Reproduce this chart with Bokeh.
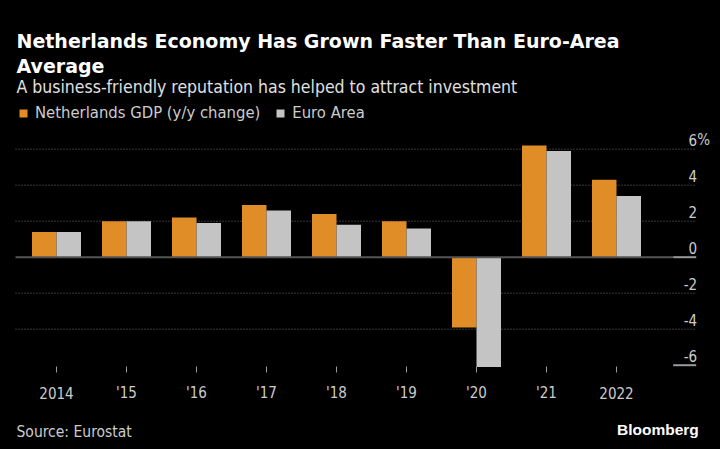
from bokeh.plotting import figure
from bokeh.models import ColumnDataSource, Label, Legend, LegendItem, Range1d
from bokeh.transform import dodge
from bokeh.embed import file_html
from bokeh.resources import INLINE
from bokeh.core.properties import value

# ---------------- data ----------------
years = ["2014", "'15", "'16", "'17", "'18", "'19", "'20", "'21", "2022"]
netherlands = [1.4, 2.0, 2.2, 2.9, 2.4, 2.0, -3.9, 6.2, 4.3]
euro_area = [1.4, 2.0, 1.9, 2.6, 1.8, 1.6, -6.1, 5.9, 3.4]
y_ticks = [6, 4, 2, 0, -2, -4, -6]
y_tick_labels = ["6", "4", "2", "0", "-2", "-4", "-6"]
y_unit = "%"
grid_ticks = [6, 4, 2, -2, -4]
series_names = ["Netherlands GDP (y/y change)", "Euro Area"]
title_lines = ["Netherlands Economy Has Grown Faster Than Euro-Area", "Average"]
subtitle = "A business-friendly reputation has helped to attract investment"
source_text = "Source: Eurostat"
brand = "Bloomberg"

# ---------------- layout / style ----------------
W, H = 720, 449
ORANGE = "#E08D28"
GREY = "#C4C4C4"
BG = "#000000"
COND = "DejaVu Sans Condensed"

PX_X = 70.0          # pixels per category
PX_Y = 18.0          # pixels per percentage point
X0_PIX = 56.0        # pixel of first category centre
Y0_PIX = 256.7       # pixel of zero line

x_start, x_end = -X0_PIX / PX_X, (W - X0_PIX) / PX_X
y_end, y_start = Y0_PIX / PX_Y, -(H - Y0_PIX) / PX_Y

plot_left = (15 - X0_PIX) / PX_X
plot_right = (695.7 - X0_PIX) / PX_X
plot_bottom = y_ticks[-1] - 1.3 / PX_Y
cut = plot_right - 23 / PX_X

p = figure(width=W, height=H, output_backend="svg", toolbar_location=None,
           x_range=Range1d(x_start, x_end), y_range=Range1d(y_start, y_end),
           x_axis_location=None, y_axis_location=None, title=None,
           min_border=0, min_border_left=0, min_border_right=0,
           min_border_top=0, min_border_bottom=0)
p.background_fill_color = BG
p.border_fill_color = BG
p.outline_line_color = None
p.grid.visible = False

# dotted gridlines
p.segment(x0=[plot_left] * len(grid_ticks), x1=[plot_right] * len(grid_ticks),
          y0=grid_ticks, y1=grid_ticks, line_color="#707070", line_width=1,
          line_dash="1 2")

src = ColumnDataSource(dict(x=list(range(len(years))), nl=netherlands, ea=euro_area))
r1 = p.vbar(x=dodge("x", -0.175), top="nl", width=0.35, source=src,
            fill_color=ORANGE, line_color=None)
r2 = p.vbar(x=dodge("x", 0.175), top="ea", width=0.35, source=src,
            fill_color=GREY, line_color=None)

# zero line and right-side markers
p.segment(x0=[plot_left], x1=[cut], y0=[0], y1=[0], line_color="#555555", line_width=2)
p.segment(x0=[cut, cut], x1=[plot_right, plot_right], y0=[y_ticks[3], y_ticks[-1]],
          y1=[y_ticks[3], y_ticks[-1]], line_color="#9a9a9a", line_width=2)

# right-side y labels (above gridlines)
p.text(x=[plot_right] * len(y_ticks), y=y_ticks, text=y_tick_labels,
       text_align="right", text_baseline="alphabetic", x_offset=1, y_offset=-9,
       text_color="#cccccc", text_font=value(COND), text_font_size="15px")
p.text(x=[plot_right], y=[y_ticks[0]], text=[y_unit],
       text_align="left", text_baseline="alphabetic", x_offset=1, y_offset=-9,
       text_color="#cccccc", text_font=value(COND), text_font_size="15px")

# x ticks and labels
xs = list(range(len(years)))
p.segment(x0=xs, x1=xs, y0=[plot_bottom] * len(xs),
          y1=[plot_bottom - 6 / PX_Y] * len(xs), line_color="#9a9a9a", line_width=1)
p.text(x=xs, y=[plot_bottom] * len(xs), text=years, text_align="center",
       text_baseline="alphabetic", y_offset=26, text_color="#cccccc",
       text_font=value(COND), text_font_size="15px")

# legend
legend = Legend(items=[LegendItem(label=series_names[0], renderers=[r1]),
                       LegendItem(label=series_names[1], renderers=[r2])],
                orientation="horizontal", location=(18, H - 122.5),
                glyph_width=10, glyph_height=10, label_standoff=7, spacing=15,
                padding=0, margin=0, label_height=20,
                label_text_font=COND, label_text_font_size="16.5px",
                label_text_color="#cccccc", background_fill_alpha=0,
                border_line_color=None)
p.add_layout(legend, "center")

# titles / footer
def lab(text, x, y, size, color, font=COND, style="normal", align="left"):
    p.add_layout(Label(x=x, y=H - y, x_units="screen", y_units="screen", text=text,
                       text_font=font, text_font_size=size, text_font_style=style,
                       text_color=color, text_align=align, text_baseline="alphabetic"))

lab(title_lines[0], 16, 40.7, "19px", "#ffffff", font="DejaVu Sans", style="bold")
lab(title_lines[1], 16, 65, "19px", "#ffffff", font="DejaVu Sans", style="bold")
lab(subtitle, 16, 86.7, "17.5px", "#e0e0e0")
lab(source_text, 16, 431.7, "15.5px", "#cccccc")
lab(brand, 698.3, 429.3, "15.5px", "#ffffff", font="Liberation Sans", style="bold",
    align="right")

html = file_html(p, INLINE, title="Netherlands Economy")
html = html.replace("<head>", "<head><style>html,body{background:#000000;}</style>", 1)
open("out.html", "w").write(html)
